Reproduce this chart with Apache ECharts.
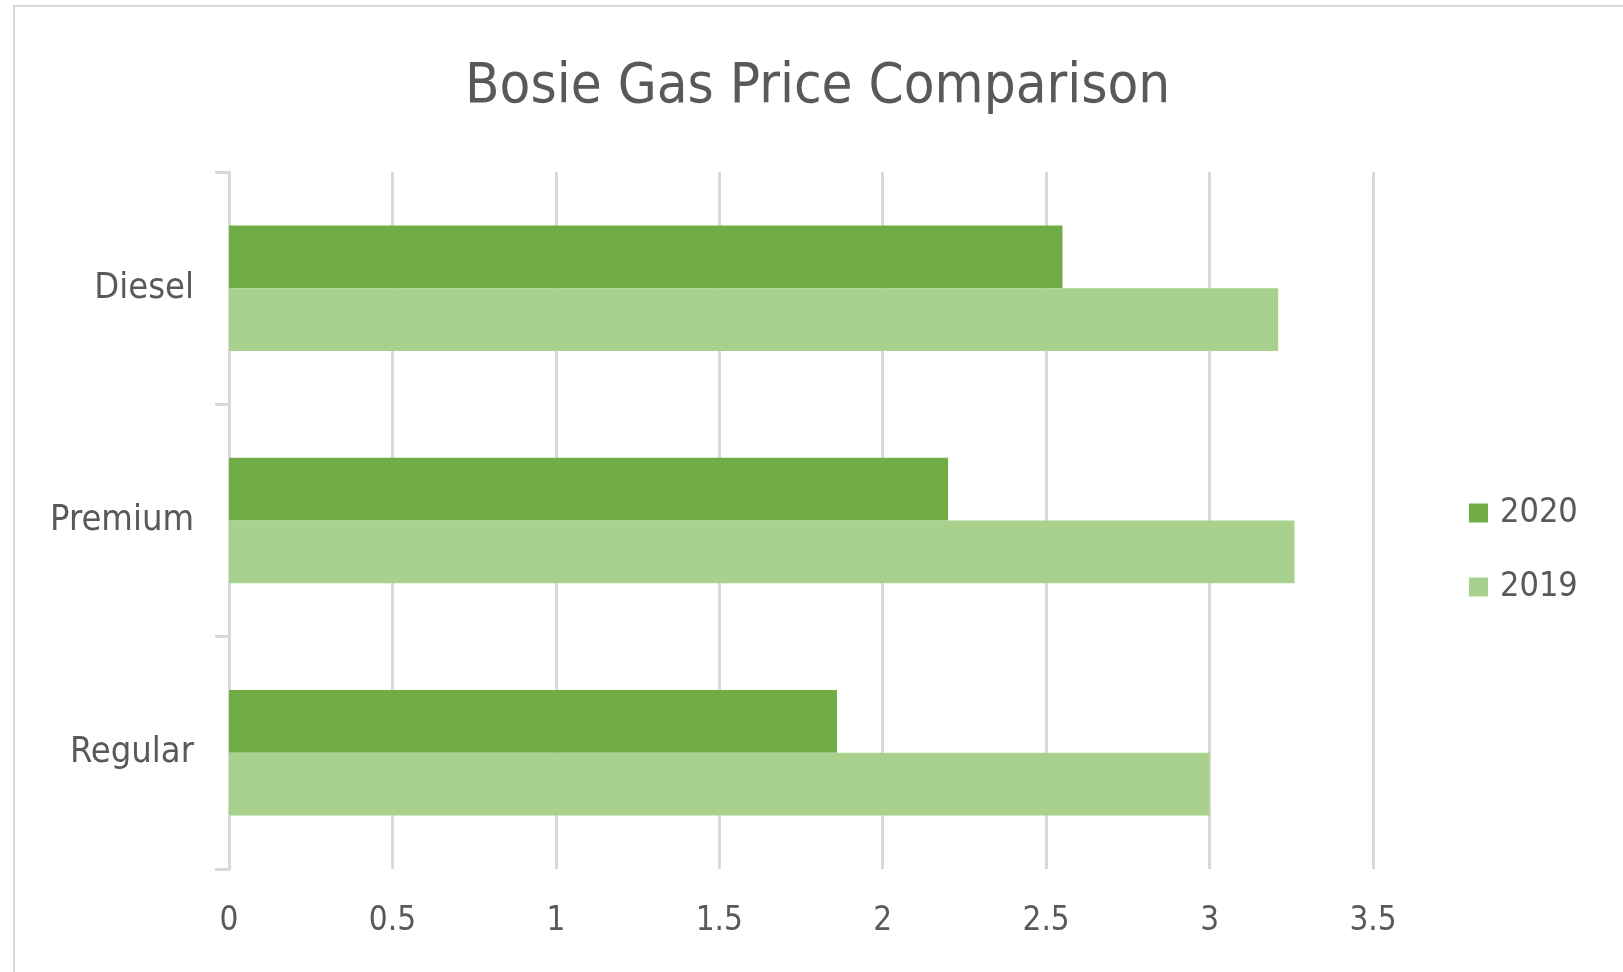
<!DOCTYPE html>
<html>
<head>
<meta charset="utf-8">
<script src="https://cdn.jsdelivr.net/npm/echarts@6/dist/echarts.min.js"></script>
<style>
  html, body { margin: 0; padding: 0; background: #fff; }
  #chart { width: 1623px; height: 972px; }
</style>
</head>
<body>
<div id="chart"></div>
<script>
// fuel types, top to bottom
var fuelTypes = ["Diesel", "Premium", "Regular"];
var prices2020 = [2.55, 2.2, 1.86];
var prices2019 = [3.21, 3.26, 3.0];
var xTicks = { min: 0, max: 3.5, interval: 0.5 };

var textColor = "#595959";
var gridColor = "#d9d9d9";
var font = "'Liberation Sans Narrow', 'DejaVu Sans Condensed', 'Liberation Sans', sans-serif";

var myChart = echarts.init(document.getElementById("chart"));
var option = {
  backgroundColor: "#fff",
  animation: false,
  graphic: [
    {
      type: "rect",
      shape: { x: 14, y: 6, width: 1640, height: 1000 },
      style: { fill: "none", stroke: "#d9d9d9", lineWidth: 2 },
      silent: true,
    },
  ],
  title: {
    text: "Bosie Gas Price Comparison",
    left: 460,
    top: 54,
    textStyle: {
      fontFamily: font,
      fontSize: 56,
      fontWeight: "normal",
      color: textColor,
    },
  },
  legend: {
    orient: "vertical",
    left: 1464,
    top: 491,
    icon: "rect",
    itemWidth: 19,
    itemHeight: 19,
    itemGap: 40,
    data: ["2020", "2019"],
    textStyle: { fontFamily: font, fontSize: 34, color: textColor, padding: [0, 0, 0, 7] },
  },
  grid: { left: 229, right: 250, top: 172, bottom: 103, containLabel: false },
  xAxis: {
    type: "value",
    min: xTicks.min,
    max: xTicks.max,
    interval: xTicks.interval,
    axisLine: { show: false },
    axisTick: { show: false },
    splitLine: { show: true, lineStyle: { color: gridColor, width: 3 } },
    axisLabel: {
      margin: 36,
      fontFamily: font,
      fontSize: 33,
      color: textColor,
    },
  },
  yAxis: {
    type: "category",
    inverse: true,
    data: fuelTypes,
    axisLine: { show: true, lineStyle: { color: gridColor, width: 3 } },
    axisTick: { show: true, length: 14, lineStyle: { color: gridColor, width: 3 } },
    axisLabel: {
      margin: 35,
      fontFamily: font,
      fontSize: 36,
      color: textColor,
      padding: [6, 0, 0, 0],
    },
  },
  series: [
    {
      name: "2020",
      type: "bar",
      data: prices2020,
      itemStyle: { color: "#70ad47" },
      barGap: "0%",
      barCategoryGap: "46%",
    },
    {
      name: "2019",
      type: "bar",
      data: prices2019,
      itemStyle: { color: "#a9d18e" },
      barGap: "0%",
      barCategoryGap: "46%",
    },
  ],
};
option && myChart.setOption(option);
</script>
</body>
</html>
